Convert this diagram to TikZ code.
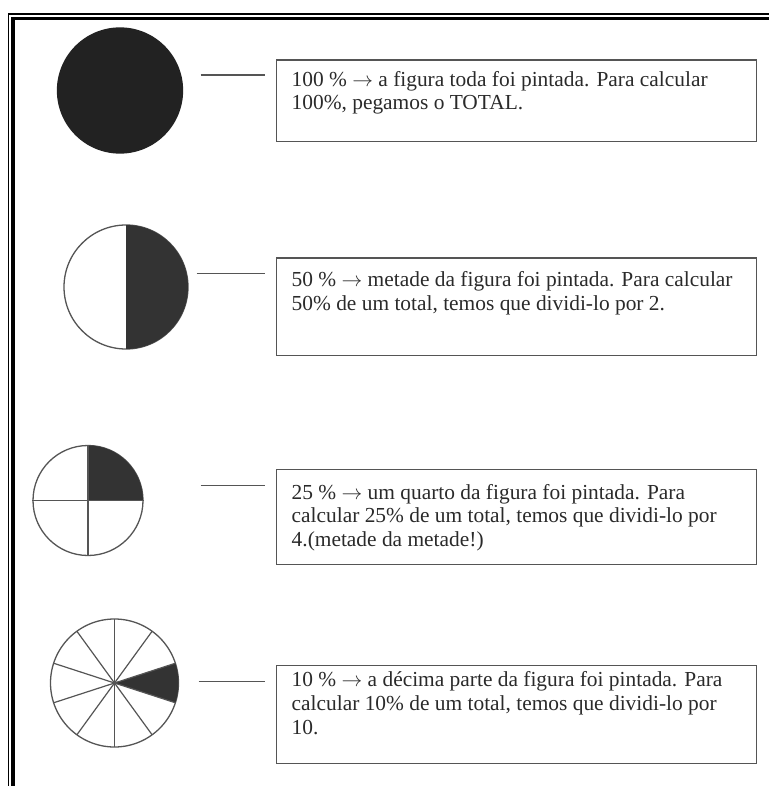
\documentclass[tikz,border=0pt]{standalone}
\usepackage{fontspec}
\setmainfont{Liberation Serif}
\usetikzlibrary{calc}
\definecolor{pieink}{HTML}{333333}
\definecolor{fullink}{HTML}{222222}
\definecolor{edgegray}{HTML}{555555}
\definecolor{textgray}{HTML}{2A2A2A}

\newcommand{\notetext}[3]{\begin{minipage}[t][#1pt][t]{449pt}\vspace{#2pt}#3\end{minipage}}

\begin{document}
\begin{tikzpicture}[
    x=1pt, y=-1pt,
    disc/.style={circle, draw=edgegray, line width=1.3pt, inner sep=0pt, fill=white},
    note/.style={draw=edgegray, line width=1.4pt, anchor=north west, inner xsep=15.5pt,
                 inner ysep=0pt, font=\fontsize{21.4}{23.7}\selectfont, text=textgray},
    lead/.style={draw=edgegray, line width=1.5pt},
    spoke/.style={draw=edgegray, line width=1.2pt}
  ]
    \useasboundingbox (0,0) rectangle (768,786);
    \draw[line width=1.3pt] (8.5,800) |- (790,14);
    \draw[line width=3.6pt] (13,800) |- (790,18.5);

    \node[disc, minimum size=125pt, fill=fullink, draw=fullink] (full) at (120,90.5) {};
    \node[disc, minimum size=124pt] (half) at (126,287) {};
    \node[disc, minimum size=110pt] (quarter) at (88,500.5) {};
    \node[disc, minimum size=128pt] (tenth) at (114.5,683) {};

    \fill[pieink] (half.center) ++(90:62pt) arc[start angle=90, end angle=-90, radius=62pt] -- cycle;

    \fill[pieink] (quarter.center) -- ++(90:55pt) arc[start angle=90, end angle=0, radius=55pt] -- cycle;
    \draw[spoke] (quarter.north) -- (quarter.south);
    \draw[spoke] (quarter.west) -- (quarter.east);

    \fill[pieink] (tenth.center) -- ++(-18:64pt) arc[start angle=-18, end angle=18, radius=64pt] -- cycle;
    \foreach \a in {18,54,...,342}
      \draw[spoke] (tenth.center) -- ($(tenth.center)+(\a:64pt)$);

    \node[note] (n100) at (275.5,59.5) {\notetext{81.5}{11}{100 \% $\rightarrow$ a figura toda foi pintada. Para calcular\\100\%, pegamos o TOTAL.}};
    \node[note] (n50) at (275.5,257.3) {\notetext{97.7}{13.8}{50 \% $\rightarrow$ metade da figura foi pintada. Para calcular\\50\% de um total, temos que dividi-lo por 2.}};
    \node[note] (n25) at (275.5,469) {\notetext{95}{14.4}{25 \% $\rightarrow$ um quarto da figura foi pintada. Para\\calcular 25\% de um total, temos que dividi-lo por\\4.(metade da metade!)}};
    \node[note] (n10) at (275.5,665) {\notetext{98}{6}{10 \% $\rightarrow$ a décima parte da figura foi pintada. Para\\calcular 10\% de um total, temos que dividi-lo por\\10.}};

    \draw[lead] ([xshift=-75pt,yshift=-15.5pt]n100.north west) -- ([xshift=-10.5pt,yshift=-15.5pt]n100.north west);
    \draw[lead] ([xshift=-79pt,yshift=-16pt]n50.north west) -- ([xshift=-10.5pt,yshift=-16pt]n50.north west);
    \draw[lead] ([xshift=-75pt,yshift=-16.7pt]n25.north west) -- ([xshift=-10.5pt,yshift=-16.7pt]n25.north west);
    \draw[lead] ([xshift=-77pt,yshift=-16.7pt]n10.north west) -- ([xshift=-10.5pt,yshift=-16.7pt]n10.north west);
  \end{tikzpicture}
\end{document}
